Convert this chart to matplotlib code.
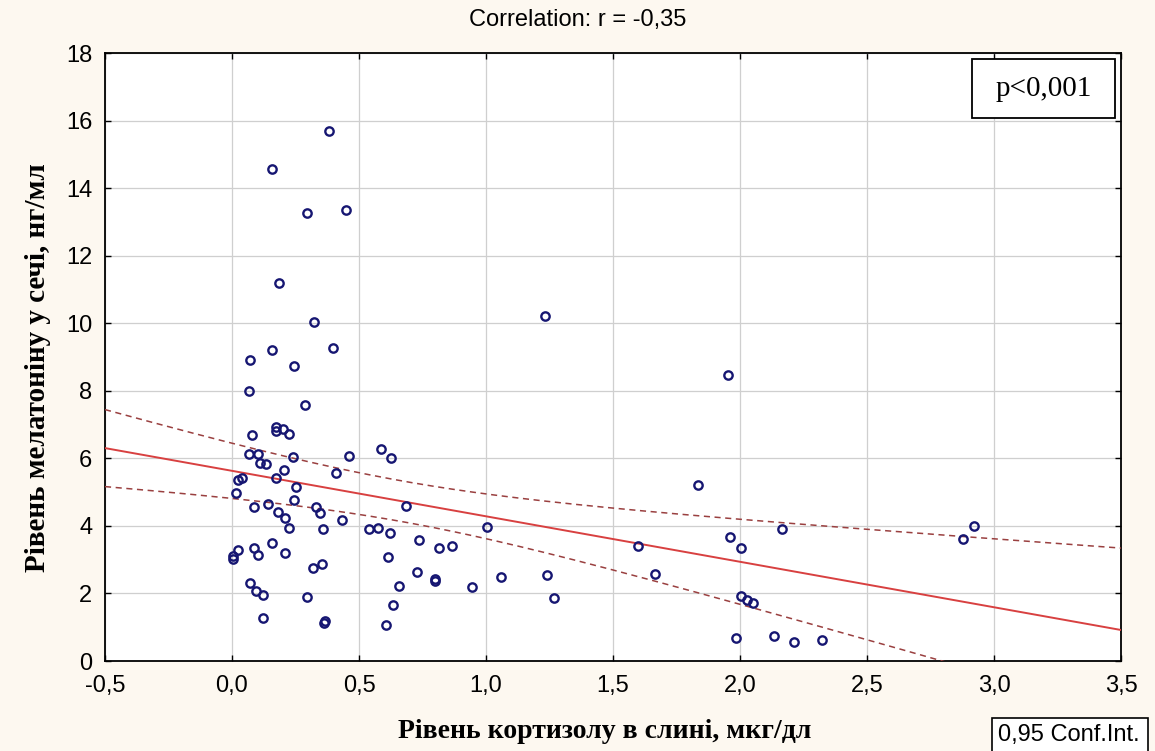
import numpy as np
import matplotlib
matplotlib.use("Agg")
import matplotlib.pyplot as plt
from matplotlib.patches import Rectangle

# cortisol in saliva (x) vs melatonin in urine (y)
cortisol = [0.382, 0.159, 0.295, 0.448, 0.186, 0.324, 0.159, 0.396, 0.072, 0.245,
            0.066, 0.289, 0.173, 0.173, 0.202, 0.079, 0.223, 0.585, 0.066, 0.102,
            0.110, 0.133, 0.239, 0.462, 0.626, 0.205, 0.411, 0.173, 0.022, 0.038,
            0.251, 0.016, 0.245, 0.143, 0.085, 0.331, 0.348, 0.181, 0.686, 0.433,
            0.210, 0.223, 0.359, 0.540, 0.574, 0.621, 0.735, 0.814, 0.866, 0.159,
            0.024, 0.087, 0.102, 0.210, 0.003, 0.003, 0.614, 0.354, 0.318, 0.727,
            0.798, 0.798, 0.072, 0.656, 0.094, 0.124, 0.295, 0.634, 0.124, 0.365,
            0.362, 0.607, 1.232, 1.954, 1.833, 1.003, 2.164, 1.961, 2.004, 1.600,
            0.945, 1.060, 1.240, 1.269, 1.665, 2.004, 2.026, 2.050, 1.983, 2.135,
            2.214, 2.323, 2.921, 2.878]
melatonin = [15.70, 14.56, 13.25, 13.35, 11.19, 10.04, 9.22, 9.28, 8.91, 8.74,
             7.98, 7.59, 6.93, 6.81, 6.88, 6.68, 6.72, 6.28, 6.12, 6.14,
             5.87, 5.83, 6.03, 6.07, 6.02, 5.64, 5.58, 5.42, 5.36, 5.43,
             5.15, 4.98, 4.76, 4.64, 4.55, 4.57, 4.39, 4.40, 4.60, 4.17,
             4.22, 3.94, 3.90, 3.90, 3.94, 3.79, 3.57, 3.35, 3.40, 3.50,
             3.29, 3.35, 3.13, 3.19, 3.10, 3.02, 3.09, 2.86, 2.75, 2.64,
             2.42, 2.36, 2.32, 2.22, 2.06, 1.94, 1.88, 1.67, 1.28, 1.17,
             1.13, 1.06, 10.22, 8.46, 5.20, 3.96, 3.90, 3.68, 3.35, 3.40,
             2.20, 2.48, 2.54, 1.87, 2.59, 1.93, 1.80, 1.72, 0.69, 0.74,
             0.57, 0.63, 4.00, 3.62]

xticks = [-0.5, 0.0, 0.5, 1.0, 1.5, 2.0, 2.5, 3.0, 3.5]
xticklabels = ["-0,5", "0,0", "0,5", "1,0", "1,5", "2,0", "2,5", "3,0", "3,5"]
yticks = [0, 2, 4, 6, 8, 10, 12, 14, 16, 18]

x = np.array(cortisol)
y = np.array(melatonin)
n = len(x)

# least squares line and 95% confidence band of the mean
slope, intercept = np.polyfit(x, y, 1)
resid = y - (intercept + slope * x)
s = np.sqrt(np.sum(resid ** 2) / (n - 2))
sxx = np.sum((x - x.mean()) ** 2)
t_crit = 1.986
xs = np.linspace(-0.5, 3.5, 200)
fit = intercept + slope * xs
half = t_crit * s * np.sqrt(1.0 / n + (xs - x.mean()) ** 2 / sxx)

bg = "#fdf8f0"
fig = plt.figure(figsize=(11.55, 7.51), dpi=100, facecolor=bg)
ax = fig.add_axes([105 / 1155, 90 / 751, 1016 / 1155, 608 / 751])
ax.set_facecolor("white")

ax.grid(True, color="#cfcfcf", linewidth=0.9)
ax.set_axisbelow(True)

ax.plot(xs, fit, color="#d84040", linewidth=1.4, zorder=3)
ax.plot(xs, fit + half, color="#9a4040", linewidth=1.1, linestyle=(0, (4, 3)), zorder=3)
ax.plot(xs, fit - half, color="#9a4040", linewidth=1.1, linestyle=(0, (4, 3)), zorder=3)

ax.plot(x, y, "o", mfc="none", mec="#161672", ms=6.0, mew=1.7, zorder=4)

ax.set_xlim(-0.5, 3.5)
ax.set_ylim(0, 18)
ax.set_xticks(xticks)
ax.set_xticklabels(xticklabels)
ax.set_yticks(yticks)
ax.tick_params(direction="in", length=4, width=1, top=True, right=True,
               labelsize=17, labelfontfamily="Liberation Sans")
ax.tick_params(axis="x", pad=10)
ax.tick_params(axis="y", pad=9)
for sp in ax.spines.values():
    sp.set_linewidth(1.3)
    sp.set_color("black")

fig.text(0.5, 1 - 20 / 751, "Correlation: r = -0,35", ha="center", va="center",
         fontsize=17, family="Liberation Sans")
fig.text(605 / 1155, 1 - 731 / 751, "Рівень кортизолу в слині, мкг/дл",
         ha="center", va="center", fontsize=20, fontweight="bold",
         family="Liberation Serif")
fig.text(38 / 1155, 1 - 368 / 751, "Рівень мелатоніну у сечі, нг/мл",
         ha="center", va="center", rotation=90, fontsize=21, fontweight="bold",
         family="Liberation Serif")

# p-value box in the upper right corner
ax.add_patch(Rectangle((0.853, 0.893), 0.141, 0.097, transform=ax.transAxes,
                       facecolor="white", edgecolor="black", linewidth=1.3, zorder=5))
ax.text(0.9235, 0.9415, "p<0,001", transform=ax.transAxes, ha="center", va="center",
        fontsize=21, family="Liberation Serif", zorder=6)

# confidence interval note
fig.patches.append(Rectangle((992 / 1155, -0.01), 156 / 1155, (751 - 718) / 751 + 0.01,
                             transform=fig.transFigure, facecolor="white",
                             edgecolor="black", linewidth=1.2))
fig.text(998 / 1155, 1 - 735 / 751, "0,95 Conf.Int.", ha="left", va="center",
         fontsize=17, family="Liberation Sans")

fig.savefig("out.png", dpi=100, facecolor=bg)
